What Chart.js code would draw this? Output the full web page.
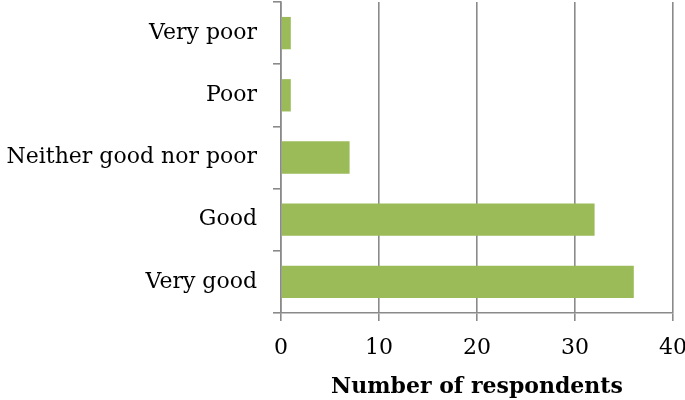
<!DOCTYPE html>
<html>
<head>
<meta charset="utf-8">
<script src="https://cdn.jsdelivr.net/npm/chart.js@4"></script>
<style>
  html, body { margin: 0; padding: 0; background: #fff; }
  #wrap { width: 685px; height: 400px; position: relative; }
</style>
</head>
<body>
<div id="wrap"><canvas id="grafico"></canvas></div>
<script>
// Dados
const categorias = ['Very poor', 'Poor', 'Neither good nor poor', 'Good', 'Very good'];
const respondentes = [1, 1, 7, 32, 36];
const ticksX = [0, 10, 20, 30, 40];

const corEixo = '#8a8a8a';
const fonte = "'DejaVu Serif', serif";

new Chart(document.getElementById('grafico').getContext('2d'), {
    type: 'bar',
    data: {
        labels: categorias,
        datasets: [{
            data: respondentes,
            backgroundColor: '#9BBB59',
            borderWidth: 0,
            categoryPercentage: 1,
            barPercentage: 0.52
        }]
    },
    options: {
        indexAxis: 'y',
        responsive: true,
        maintainAspectRatio: false,
        animation: false,
        layout: { padding: 0 },
        plugins: { legend: { display: false }, tooltip: { enabled: false } },
        scales: {
            x: {
                min: ticksX[0],
                max: ticksX[ticksX.length - 1],
                afterBuildTicks: axis => { axis.ticks = ticksX.map(v => ({ value: v })); },
                grid: { color: corEixo, lineWidth: 1.6, tickLength: 8, drawTicks: true },
                border: { color: corEixo, width: 1.6 },
                ticks: { color: '#000', font: { family: fonte, size: 22 }, padding: 14 },
                title: {
                    display: true,
                    text: 'Number of respondents',
                    color: '#000',
                    font: { family: fonte, size: 22, weight: 'bold' },
                    padding: { top: 0, bottom: 0 }
                },
                afterFit: axis => {
                    axis.height = 87;
                    axis.paddingLeft = 0;
                    axis.paddingRight = 12;
                }
            },
            y: {
                grid: { display: true, drawOnChartArea: false, offset: true, color: corEixo, lineWidth: 1.6, tickLength: 8 },
                border: { color: corEixo, width: 1.6 },
                ticks: { color: '#000', font: { family: fonte, size: 22 }, padding: 16 },
                afterFit: axis => {
                    axis.width = 281;
                    axis.paddingTop = 2;
                    axis.paddingBottom = 0;
                }
            }
        }
    }
});
</script>
</body>
</html>
